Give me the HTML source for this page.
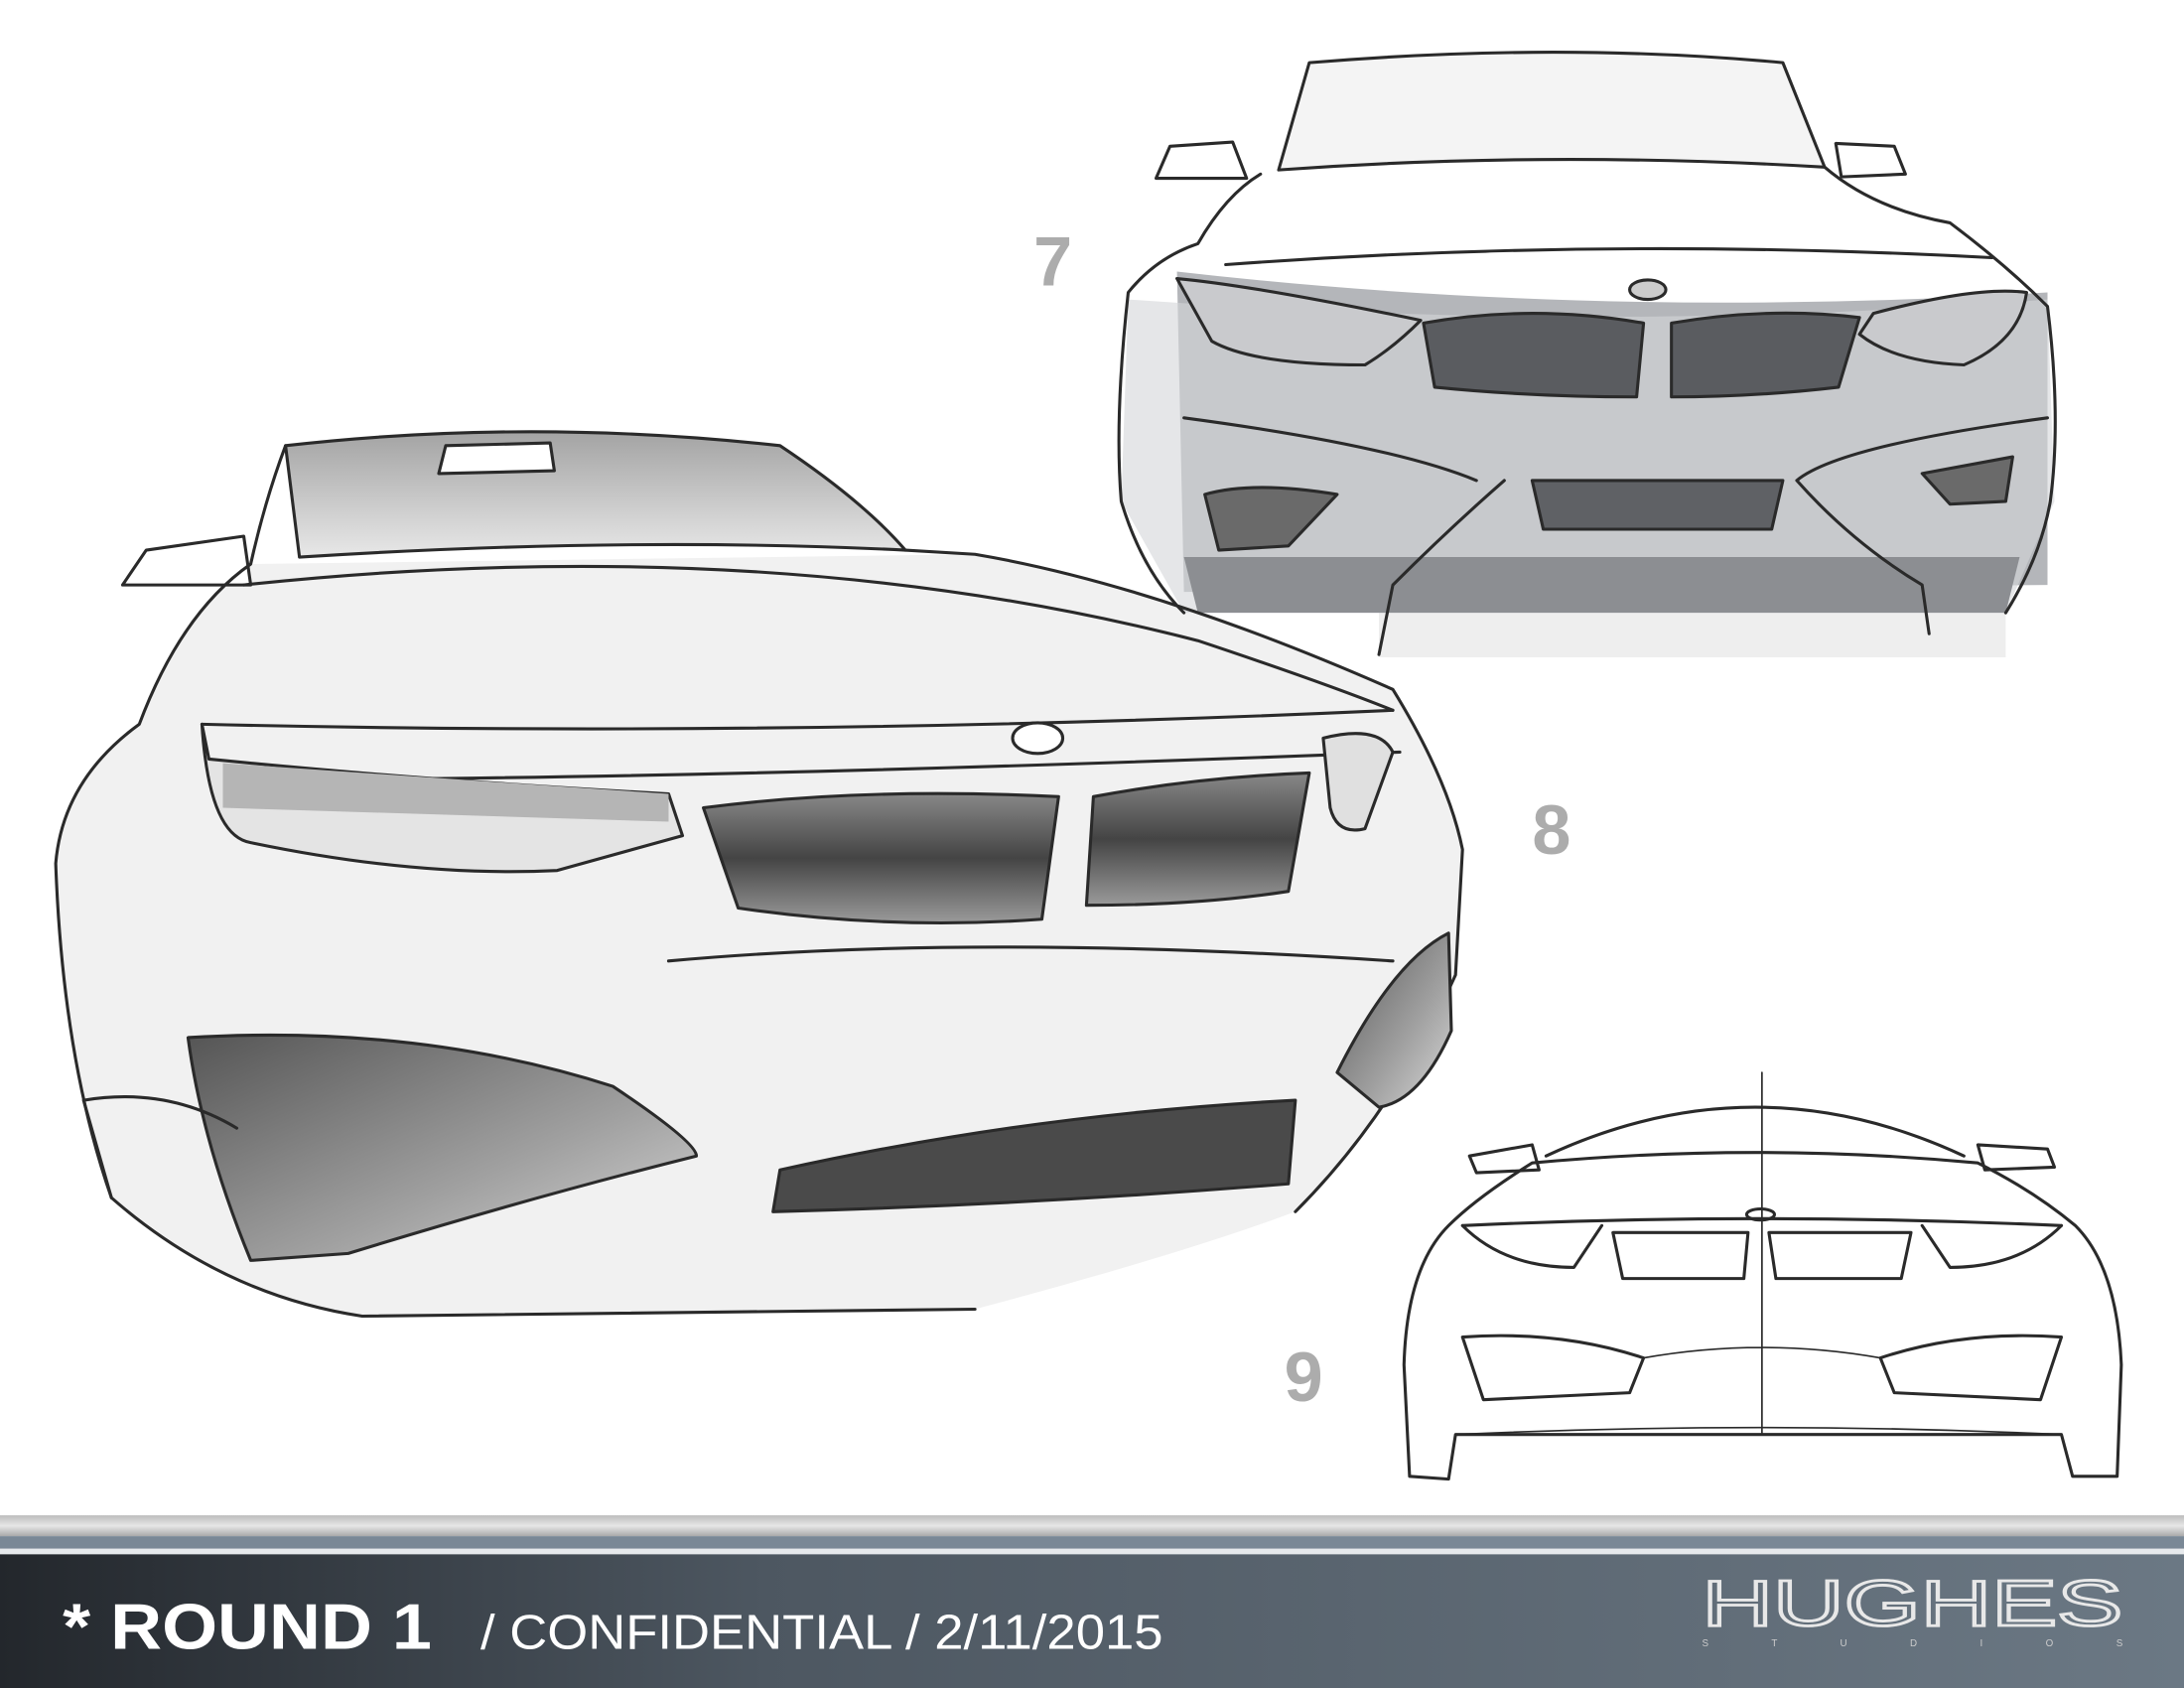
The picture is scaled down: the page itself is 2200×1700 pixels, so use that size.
<!DOCTYPE html>
<html><head><meta charset="utf-8"><style>
html,body{margin:0;padding:0;background:#fff;width:2200px;height:1700px;overflow:hidden}
svg{display:block}
</style></head><body>
<svg width="2200" height="1700" viewBox="0 0 1568 1212" preserveAspectRatio="none" xmlns="http://www.w3.org/2000/svg">
<defs>
<linearGradient id="foot" x1="0" y1="0" x2="1" y2="0"><stop offset="0" stop-color="#23272c"/><stop offset="0.35" stop-color="#4d5761"/><stop offset="1" stop-color="#6b7884"/></linearGradient>
<linearGradient id="strip" x1="0" y1="0" x2="0" y2="1"><stop offset="0" stop-color="#bdbdbd"/><stop offset="0.5" stop-color="#e6e6e6"/><stop offset="1" stop-color="#a9a9a9"/></linearGradient>
<linearGradient id="grl" x1="0" y1="0" x2="0" y2="1"><stop offset="0" stop-color="#888"/><stop offset="0.5" stop-color="#444"/><stop offset="1" stop-color="#9a9a9a"/></linearGradient>
<linearGradient id="ws" x1="0" y1="0" x2="0" y2="1"><stop offset="0" stop-color="#a3a3a3"/><stop offset="1" stop-color="#e8e8e8"/></linearGradient>
<linearGradient id="intk" x1="0" y1="0" x2="1" y2="1"><stop offset="0" stop-color="#555"/><stop offset="0.6" stop-color="#a0a0a0"/><stop offset="1" stop-color="#d8d8d8"/></linearGradient>
</defs>
<g fill="none" stroke="#2a2a2a" stroke-width="2.2" stroke-linecap="round" stroke-linejoin="round">
<!-- Car 8 body fill -->
<path d="M180 405 Q130 440 100 520 Q45 560 40 620 Q45 760 80 860 Q160 930 260 945 L700 940 Q850 900 930 870 Q1000 800 1045 700 L1050 610 Q1040 560 1000 495 Q830 420 700 398 Z" fill="#f1f1f1" stroke="none"/>
<!-- Car 7 -->
<path d="M990 440 L1440 440 L1440 472 L990 472 Z" fill="#eeeeee" stroke="none"/>
<path d="M845 195 Q1150 230 1470 210 L1470 420 L850 425 Z" fill="#b4b6ba" stroke="none"/>
<path d="M810 215 Q1150 240 1470 215 L1475 360 L1440 440 L850 440 L805 360 Z" fill="#d4d5d8" stroke="none" opacity="0.6"/>
<path d="M850 400 L1450 400 L1440 440 L860 440 Z" fill="#8c8e92" stroke="none"/>
<path d="M940 45 Q1120 30 1280 45 L1310 120 Q1110 108 918 122 Z" fill="#f4f4f4"/>
<path d="M830 128 L840 105 L885 102 L895 128 Z M1318 103 L1360 105 L1368 125 L1322 127 Z"/>
<path d="M905 125 Q880 140 860 175 Q830 185 810 210 Q800 300 805 360 Q820 410 850 440 M1310 120 Q1345 150 1400 160 Q1440 190 1470 220 Q1480 300 1472 360 Q1465 400 1440 440"/>
<path d="M880 190 Q1150 170 1430 185"/>
<path d="M845 200 Q900 205 1020 230 Q1000 250 980 262 Q900 262 870 245 Z" fill="#c9cacd"/>
<path d="M1345 225 Q1420 205 1455 210 Q1450 245 1410 262 Q1360 260 1335 240 Z" fill="#c9cacd"/>
<path d="M1022 232 Q1100 218 1180 232 L1175 285 Q1100 285 1030 278 Z" fill="#5a5c60"/>
<path d="M1200 232 Q1270 220 1335 228 L1320 278 Q1260 285 1200 285 Z" fill="#5a5c60"/>
<ellipse cx="1183" cy="208" rx="13" ry="7" fill="#ccc"/>
<path d="M1100 345 L1280 345 L1272 380 L1108 380 Z" fill="#5f6165"/>
<path d="M865 355 Q900 345 960 355 L925 392 L875 395 Z M1380 340 L1445 328 L1440 360 L1400 362 Z" fill="#6a6a6a"/>
<path d="M1080 345 Q1040 380 1000 420 L990 470 M1290 345 Q1330 390 1380 420 L1385 455 M850 300 Q1000 320 1060 345 M1470 300 Q1320 320 1290 345"/>
<!-- Car 8 -->
<path d="M205 320 Q380 300 560 320 Q620 360 650 395 Q450 385 215 400 Z" fill="url(#ws)"/>
<path d="M320 320 L395 318 L398 338 L315 340 Z" fill="#fff"/>
<path d="M88 420 L105 395 L175 385 L180 420 Z" fill="#fff"/>
<path d="M205 320 Q190 360 180 405 Q130 440 100 520 Q45 560 40 620 Q45 760 80 860 Q160 930 260 945 L700 940 M650 395 L700 398 Q830 420 1000 495 Q1040 560 1050 610 L1045 700 Q1000 800 930 870"/>
<path d="M175 420 Q550 380 860 460 Q950 490 1000 510"/>
<path d="M145 520 Q560 530 1000 510 M150 560 Q500 560 1005 540"/>
<path d="M145 520 Q150 600 180 605 Q300 630 400 625 L490 600 L480 570 Q300 560 150 545 Z" fill="#e4e4e4"/>
<path d="M160 548 L480 570 L480 590 L160 580 Z" fill="#b5b5b5" stroke="none"/>
<path d="M505 580 Q620 565 760 572 L748 660 Q640 668 530 652 Z" fill="url(#grl)"/>
<path d="M785 572 Q860 558 940 555 L925 640 Q860 650 780 650 Z" fill="url(#grl)"/>
<ellipse cx="745" cy="530" rx="18" ry="11" fill="#fff"/>
<path d="M950 530 Q990 520 1000 540 L980 595 Q960 600 955 580 Z" fill="#e0e0e0"/>
<path d="M135 745 Q300 735 440 780 Q500 820 500 830 Q380 860 250 900 L180 905 Q145 820 135 745 Z" fill="url(#intk)"/>
<path d="M560 840 Q740 800 930 790 L925 850 Q740 865 555 870 Z" fill="#4a4a4a"/>
<path d="M960 770 Q1000 690 1040 670 L1042 740 Q1020 790 990 795 Z" fill="url(#intk)"/>
<path d="M480 690 Q700 670 1000 690 M80 860 L60 790 Q120 780 170 810"/>
<!-- Car 9 -->
<path d="M1110 830 Q1260 760 1410 830 M1055 830 L1100 822 L1105 840 L1060 842 Z M1420 822 L1470 825 L1475 838 L1425 840 Z"/>
<path d="M1100 835 Q1060 860 1040 880 Q1010 910 1008 980 L1012 1060 L1040 1062 L1045 1030 L1480 1030 L1488 1060 L1520 1060 L1523 980 Q1520 910 1490 880 Q1460 855 1420 835 Q1260 820 1100 835 Z"/>
<path d="M1050 880 Q1260 870 1480 880 M1050 880 Q1080 910 1130 910 L1150 880 M1480 880 Q1450 910 1400 910 L1380 880"/>
<path d="M1158 885 L1255 885 L1252 918 L1165 918 Z M1270 885 L1372 885 L1365 918 L1275 918 Z"/>
<ellipse cx="1264" cy="872" rx="10" ry="4"/>
<path d="M1050 960 Q1120 955 1180 975 L1170 1000 L1065 1005 Z M1480 960 Q1410 955 1350 975 L1360 1000 L1465 1005 Z"/>
<path d="M1180 975 Q1265 960 1350 975 M1045 1030 Q1265 1020 1480 1030 M1265 770 L1265 1030" stroke-width="1.2"/>
</g>
<g font-family="Liberation Sans, sans-serif" font-weight="bold" fill="#acacac" font-size="50">
<text x="742" y="205">7</text><text x="1100" y="613">8</text><text x="922" y="1006">9</text>
</g>
<!-- Footer -->
<rect x="0" y="1088" width="1568" height="15" fill="url(#strip)"/>
<rect x="0" y="1103" width="1568" height="9" fill="#7a8896"/>
<rect x="0" y="1112" width="1568" height="4" fill="#e6e9ec"/>
<rect x="0" y="1116" width="1568" height="96" fill="url(#foot)"/>
<text x="45" y="1184" font-family="Liberation Sans, sans-serif" font-weight="bold" font-size="46" fill="#fff" textLength="265" lengthAdjust="spacingAndGlyphs">* ROUND 1</text>
<text x="345" y="1184" font-family="Liberation Sans, sans-serif" font-size="35" fill="#fff" textLength="490" lengthAdjust="spacingAndGlyphs">/ CONFIDENTIAL / 2/11/2015</text>
<text x="1222" y="1167" font-family="Liberation Sans, sans-serif" font-size="46" fill="none" stroke="#e8e8e8" stroke-width="2" textLength="302" lengthAdjust="spacingAndGlyphs">HUGHES</text>
<text x="1222" y="1182" font-family="Liberation Sans, sans-serif" font-size="7" fill="#ccc" textLength="302" lengthAdjust="spacing">S T U D I O S</text>
</svg>
</body></html>
